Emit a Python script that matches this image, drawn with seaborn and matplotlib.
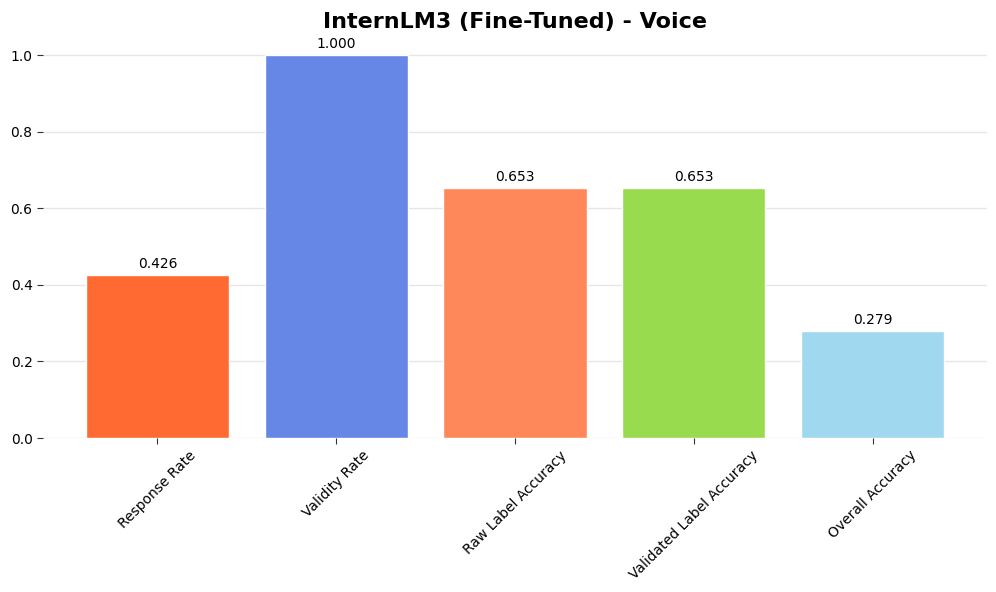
import seaborn as sns
import pandas as pd
import matplotlib.pyplot as plt

metrics = ['Response Rate', 'Validity Rate', 'Raw Label Accuracy',
           'Validated Label Accuracy', 'Overall Accuracy']
values = [0.426, 1.000, 0.653, 0.653, 0.279]
colors = ['#FF6A33', '#6787E7', '#FF885A', '#98DB4E', '#A0D8EF']

df = pd.DataFrame({'Metric': metrics, 'Value': values})

sns.set_style('white')
plt.rcParams.update({'text.color': 'black', 'xtick.color': 'black',
                     'ytick.color': 'black', 'axes.labelcolor': 'black'})
fig, ax = plt.subplots(figsize=(9.96, 5.92), dpi=100)

sns.barplot(data=df, x='Metric', y='Value', hue='Metric', palette=colors,
            legend=False, width=0.8, saturation=1, ax=ax)

for p, v in zip(ax.patches, values):
    ax.annotate(f'{v:.3f}', (p.get_x() + p.get_width() / 2, p.get_height()),
                xytext=(0, 3), textcoords='offset points',
                ha='center', va='bottom', fontsize=10, color='black')

ax.set_xlim(-0.64, 4.64)
ax.set_ylim(0, 1.05)
ax.set_yticks([0, 0.2, 0.4, 0.6, 0.8, 1.0])
ax.yaxis.grid(True, color='#e6e6e6', linewidth=1)
ax.set_axisbelow(True)
ax.tick_params(axis='both', which='both', length=4, color='#333333',
               labelsize=10, left=True, bottom=True)
plt.setp(ax.get_xticklabels(), rotation=45, ha='center', rotation_mode='default')
sns.despine(left=True, bottom=True)
ax.set_xlabel('')
ax.set_ylabel('')
ax.set_title('InternLM3 (Fine-Tuned) - Voice', fontsize=16, fontweight='bold',
             color='black')

fig.subplots_adjust(left=43 / 996, right=987 / 996, top=1 - 36 / 592,
                    bottom=1 - 438 / 592)
fig.savefig('out.png', dpi=100)
